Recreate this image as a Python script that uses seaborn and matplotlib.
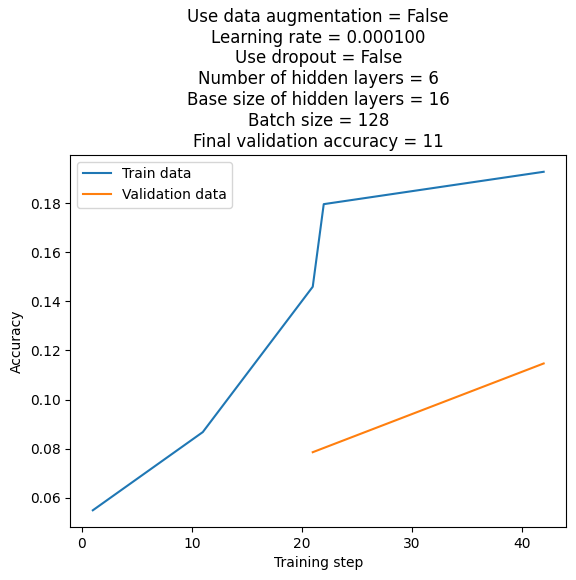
import matplotlib
matplotlib.use("Agg")
import matplotlib.pyplot as plt
import seaborn as sns
import pandas as pd

train_steps = [1, 11, 21, 22, 42]
train_acc = [0.0548, 0.0867, 0.1460, 0.1797, 0.1929]
val_steps = [21, 42]
val_acc = [0.0785, 0.1147]

title = ("Use data augmentation = False\nLearning rate = 0.000100\nUse dropout = False\n"
         "Number of hidden layers = 6\nBase size of hidden layers = 16\nBatch size = 128\n"
         "Final validation accuracy = 11")

fig, ax = plt.subplots(figsize=(5.76, 5.8), dpi=100)
sns.lineplot(x=train_steps, y=train_acc, ax=ax, label="Train data", color="#1f77b4")
sns.lineplot(x=val_steps, y=val_acc, ax=ax, label="Validation data", color="#ff7f0e")
ax.set_xlabel("Training step")
ax.set_ylabel("Accuracy")
ax.set_title(title)
ax.legend(loc="upper left")
fig.subplots_adjust(left=0.122, right=0.983, top=0.733, bottom=0.091)
fig.savefig("out.png", dpi=100)
